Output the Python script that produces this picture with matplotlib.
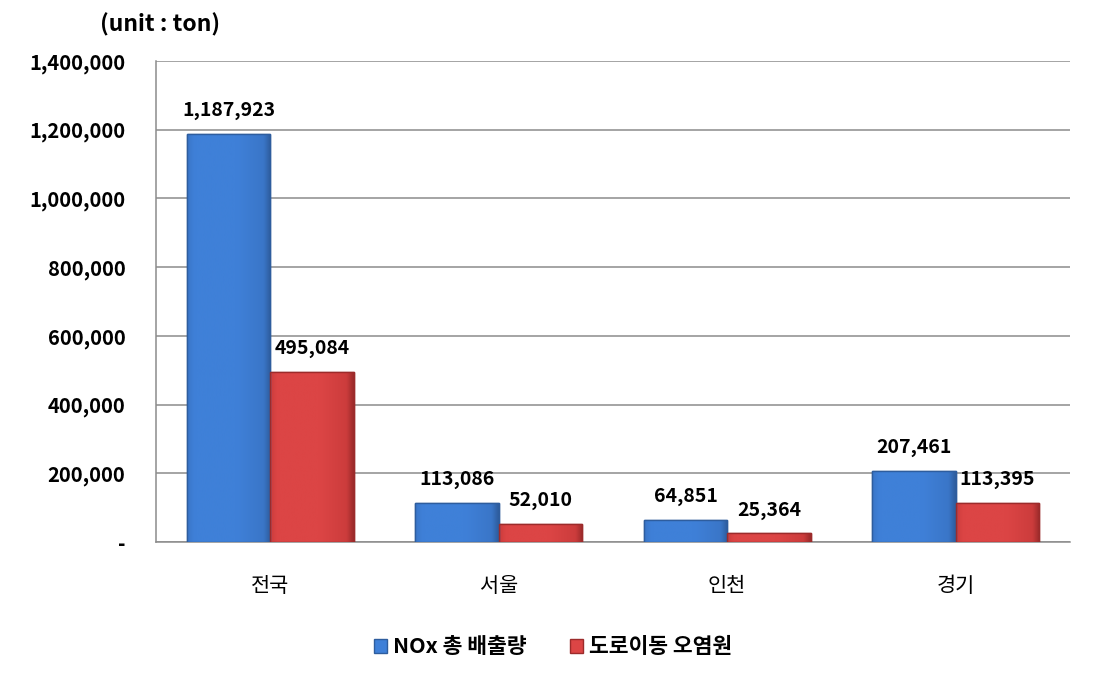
import numpy as np
import matplotlib
matplotlib.use('Agg')
import matplotlib.pyplot as plt
from matplotlib.patches import Patch

plt.rcParams['font.family'] = ['Noto Sans CJK KR', 'DejaVu Sans']

regions = ['전국', '서울', '인천', '경기']
nox_total = [1187923, 113086, 64851, 207461]
road_mobile = [495084, 52010, 25364, 113395]
series_names = ['NOx 총 배출량', '도로이동 오염원']
yticks = [0, 200000, 400000, 600000, 800000, 1000000, 1200000, 1400000]

fig = plt.figure(figsize=(10.95, 6.76), dpi=100)
ax = fig.add_axes([0.1425, 0.198, 0.8345, 0.712])

x = np.arange(len(regions))
w = 0.365
blue_face, blue_mid, blue_edge = '#3f80d8', '#3a76c8', '#2e5d9e'
red_face, red_mid, red_edge = '#dc4545', '#cc3c3c', '#9c2b2b'


def gradient_bars(xs, vals, face, mid, edge):
    bars = ax.bar(xs, vals, w, color=face, edgecolor=edge, linewidth=1.0, zorder=3)
    # soft horizontal shading across each bar for the bevelled look
    grad = np.linspace(0, 1, 64)
    cmap = matplotlib.colors.LinearSegmentedColormap.from_list(
        'g', [(0, mid), (0.08, face), (0.6, face), (0.92, mid), (1, edge)])
    for b in bars:
        bx, by = b.get_x(), b.get_y()
        bw, bh = b.get_width(), b.get_height()
        im = ax.imshow(np.atleast_2d(grad), cmap=cmap, aspect='auto',
                       extent=[bx, bx + bw, by, by + bh], zorder=3.5,
                       interpolation='bicubic')
        im.set_clip_path(b)
        ax.add_patch(plt.Rectangle((bx, by), bw, bh, fill=False,
                                   edgecolor=edge, linewidth=1.0, zorder=4))
    return bars


gradient_bars(x - w / 2, nox_total, blue_face, blue_mid, blue_edge)
gradient_bars(x + w / 2, road_mobile, red_face, red_mid, red_edge)

for xs, vals in ((x - w / 2, nox_total), (x + w / 2, road_mobile)):
    for xi, v in zip(xs, vals):
        ax.annotate(f'{v:,}', (xi, v), xytext=(0, 10), textcoords='offset points',
                    ha='center', va='bottom', fontsize=14, fontweight='bold',
                    color='black', zorder=5)

ax.set_xlim(-0.5, len(regions) - 0.5)
ax.set_ylim(0, 1400000)
ax.set_yticks(yticks)
ax.set_yticklabels(['-'] + [f'{t:,}' for t in yticks[1:]],
                   fontsize=14.5, fontweight='bold')
ax.set_xticks(x)
ax.set_xticklabels(regions, fontsize=15)
ax.tick_params(axis='y', length=0, pad=22)
ax.tick_params(axis='x', length=0, pad=24)
ax.grid(True, axis='y', color='#8c8c8c', linewidth=1.1, zorder=0)
ax.set_axisbelow(True)
for s in ['top', 'right']:
    ax.spines[s].set_visible(False)
for s in ['left', 'bottom']:
    ax.spines[s].set_color('#8c8c8c')
    ax.spines[s].set_linewidth(1.1)

fig.text(0.091, 0.963, '(unit : ton)', fontsize=16.5, fontweight='bold',
         ha='left', va='center')

handles = [Patch(facecolor=blue_face, edgecolor=blue_edge),
           Patch(facecolor=red_face, edgecolor=red_edge)]
fig.legend(handles, series_names, loc='center', bbox_to_anchor=(0.505, 0.043),
           ncol=2, frameon=False, handlelength=0.6, handleheight=0.6,
           handletextpad=0.3, columnspacing=2.0,
           prop={'size': 15.5, 'weight': 'bold'})

fig.savefig('out.png', dpi=100, facecolor='white')
